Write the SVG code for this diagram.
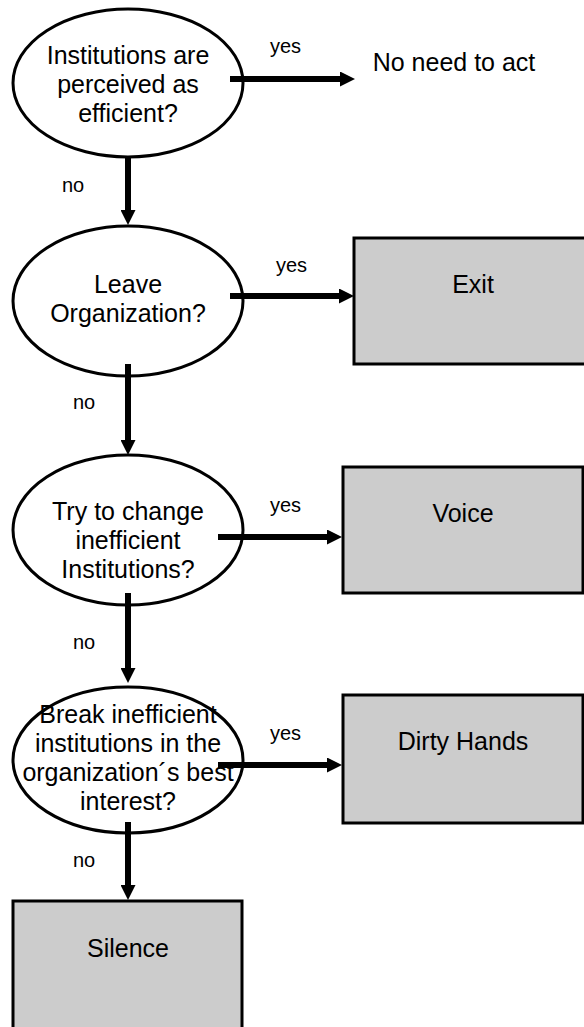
<svg xmlns="http://www.w3.org/2000/svg" width="584" height="1027" viewBox="0 0 584 1027">
<style>
.dec{fill:#ffffff;stroke:#000;stroke-width:3}
.box{fill:#cccccc;stroke:#000;stroke-width:3}
.t{font-family:"Liberation Sans",Arial,sans-serif;font-size:25px;fill:#000;text-anchor:middle}
.l{font-family:"Liberation Sans",Arial,sans-serif;font-size:20px;fill:#000}
.c{stroke:#000;stroke-width:6;fill:none;marker-end:url(#ah)}
</style>
<defs>
<marker id="ah" viewBox="0 0 15 15" markerWidth="15" markerHeight="15" markerUnits="userSpaceOnUse" refX="0" refY="7.5" orient="auto">
<path d="M0,0 L15,7.5 L0,15 z" fill="#000"/>
</marker>
</defs>
<rect width="584" height="1027" fill="#fff"/>
<g id="q1">
<ellipse class="dec" cx="128" cy="83" rx="115" ry="74"/>
<text class="t" x="128" y="64">Institutions are</text>
<text class="t" x="128" y="93">perceived as</text>
<text class="t" x="128" y="122">efficient?</text>
</g>
<g id="noneed">
<text class="t" x="454" y="71">No need to act</text>
</g>
<g id="q2">
<ellipse class="dec" cx="128" cy="301" rx="115" ry="75"/>
<text class="t" x="128" y="293">Leave</text>
<text class="t" x="128" y="322">Organization?</text>
</g>
<g id="exit">
<rect class="box" x="354" y="238" width="240" height="126"/>
<text class="t" x="473" y="293">Exit</text>
</g>
<g id="q3">
<ellipse class="dec" cx="128" cy="530" rx="115" ry="75"/>
<text class="t" x="128" y="520">Try to change</text>
<text class="t" x="128" y="549">inefficient</text>
<text class="t" x="128" y="578">Institutions?</text>
</g>
<g id="voice">
<rect class="box" x="343" y="467" width="240" height="126"/>
<text class="t" x="463" y="522">Voice</text>
</g>
<g id="q4">
<ellipse class="dec" cx="128" cy="760" rx="115" ry="73"/>
<text class="t" x="128" y="723">Break inefficient</text>
<text class="t" x="128" y="752">institutions in the</text>
<text class="t" x="128" y="781">organization´s best</text>
<text class="t" x="128" y="810">interest?</text>
</g>
<g id="dirty">
<rect class="box" x="343" y="695" width="240" height="128"/>
<text class="t" x="463" y="750">Dirty Hands</text>
</g>
<g id="silence">
<rect class="box" x="13" y="901" width="229" height="140"/>
<text class="t" x="128" y="957">Silence</text>
</g>
<g id="connectors">
<path class="c" d="M230,79 H340"/>
<path class="c" d="M230,296 H339"/>
<path class="c" d="M218,537 H327"/>
<path class="c" d="M218,765 H327"/>
<path class="c" d="M128,157 V210"/>
<path class="c" d="M128,364 V440"/>
<path class="c" d="M128,593 V668"/>
<path class="c" d="M128,822 V885"/>
<text class="l" x="270" y="53">yes</text>
<text class="l" x="276" y="272">yes</text>
<text class="l" x="270" y="512">yes</text>
<text class="l" x="270" y="740">yes</text>
<text class="l" x="62" y="192">no</text>
<text class="l" x="73" y="409">no</text>
<text class="l" x="73" y="649">no</text>
<text class="l" x="73" y="867">no</text>
</g>
</svg>
